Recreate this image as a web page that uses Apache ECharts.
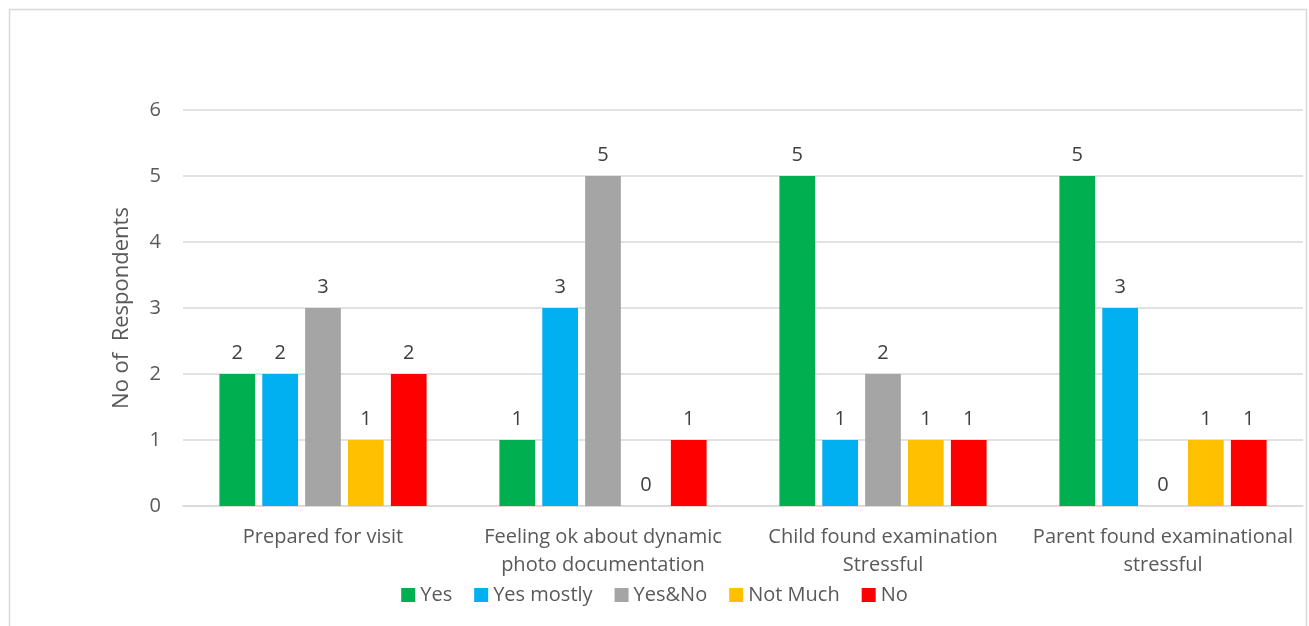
<!DOCTYPE html>
<html><head><meta charset="utf-8">
<script src="https://cdn.jsdelivr.net/npm/echarts@6/dist/echarts.min.js"></script>
<style>html,body{margin:0;padding:0;background:#fff}#c{width:1309px;height:626px}</style>
</head><body><div id="c"></div>
<script>
const categories = ["Prepared for visit", "Feeling ok about dynamic\nphoto documentation", "Child found examination\nStressful", "Parent found examinational\nstressful"];
const seriesNames = ["Yes", "Yes mostly", "Yes&No", "Not Much", "No"];
const yes = [2, 1, 5, 5];
const yesMostly = [2, 3, 1, 3];
const yesNo = [3, 5, 2, 0];
const notMuch = [1, 0, 1, 1];
const no = [2, 1, 1, 1];
const colors = ["#00B050", "#00B0F0", "#A5A5A5", "#FFC000", "#FF0000"];
const values = [yes, yesMostly, yesNo, notMuch, no];
const font = "'Open Sans', 'Liberation Sans', sans-serif";
const chart = echarts.init(document.getElementById('c'));
chart.setOption({
  animation: false,
  graphic: [{type: 'rect', shape: {x: 9.5, y: 9.5, width: 1297, height: 630}, style: {fill: 'none', stroke: '#d9d9d9', lineWidth: 1.5}}],
  grid: {left: 183, right: 6, top: 110, bottom: 120, containLabel: false},
  legend: {
    bottom: 16, left: 'center', itemWidth: 14, itemHeight: 14, itemGap: 22,
    icon: 'rect',
    textStyle: {color: '#595959', fontSize: 20, fontFamily: font},
    data: seriesNames
  },
  xAxis: {
    type: 'category', data: categories,
    axisLine: {lineStyle: {color: '#d9d9d9', width: 1.5}},
    axisTick: {show: false},
    axisLabel: {color: '#595959', fontSize: 20, fontFamily: font, lineHeight: 28, margin: 17, interval: 0}
  },
  yAxis: {
    type: 'value', min: 0, max: 6, interval: 1,
    name: 'No of  Respondents', nameLocation: 'middle', nameGap: 50, nameRotate: 90,
    nameTextStyle: {color: '#595959', fontSize: 22, fontFamily: font},
    axisLine: {show: false}, axisTick: {show: false},
    splitLine: {lineStyle: {color: '#d9d9d9', width: 1.5}},
    axisLabel: {color: '#595959', fontSize: 20, fontFamily: font, margin: 22}
  },
  series: seriesNames.map((n, i) => ({
    name: n, type: 'bar', data: values[i],
    barGap: '20%', barCategoryGap: '26%',
    itemStyle: {color: colors[i]},
    label: {show: true, position: 'top', distance: 11, color: '#404040', fontSize: 20, fontFamily: font}
  }))
});
</script></body></html>
